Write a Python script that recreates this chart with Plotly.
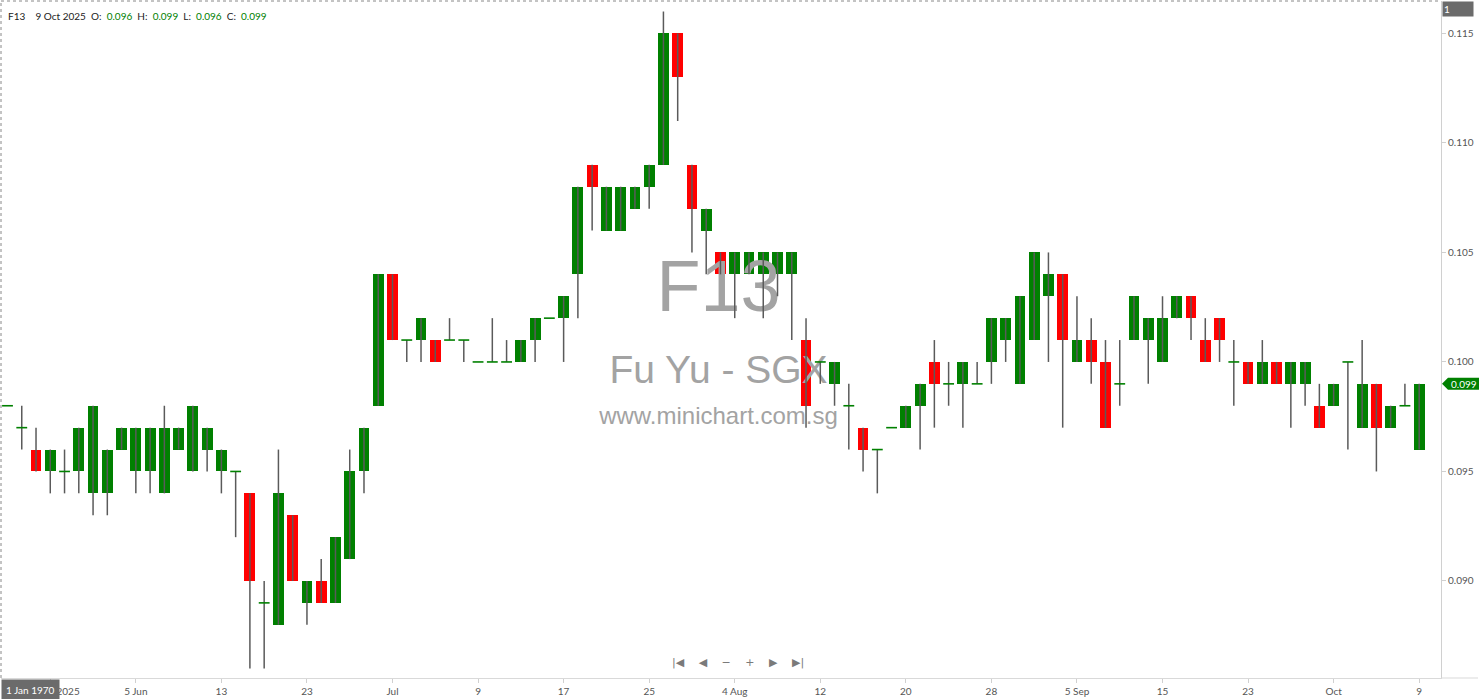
"""F13 (Fu Yu - SGX) daily candles, minichart style."""
import pandas as pd
import plotly.graph_objects as go

# trading days 23 May 2025 .. 9 Oct 2025 (no SGX weekday holidays in range)
dates = pd.bdate_range("2025-05-23", "2025-10-09")

opens = [
    0.098, 0.097, 0.096, 0.095, 0.095, 0.095, 0.094, 0.094, 0.096, 0.095,
    0.095, 0.094, 0.096, 0.095, 0.096, 0.095, 0.095, 0.094, 0.089, 0.088,
    0.093, 0.089, 0.090, 0.089, 0.091, 0.095, 0.098, 0.104, 0.101, 0.101,
    0.101, 0.101, 0.101, 0.100, 0.100, 0.100, 0.100, 0.101, 0.102, 0.102,
    0.104, 0.109, 0.106, 0.106, 0.107, 0.108, 0.109, 0.115, 0.109, 0.106,
    0.105, 0.104, 0.104, 0.104, 0.104, 0.104, 0.101, 0.100, 0.099, 0.098,
    0.097, 0.096, 0.097, 0.097, 0.098, 0.100, 0.099, 0.099, 0.099, 0.100,
    0.101, 0.099, 0.101, 0.103, 0.104, 0.100, 0.101, 0.100, 0.099, 0.101,
    0.101, 0.100, 0.102, 0.103, 0.101, 0.102, 0.100, 0.100, 0.099, 0.100,
    0.099, 0.099, 0.098, 0.098, 0.100, 0.097, 0.099, 0.097, 0.098, 0.096,
]
highs = [
    0.098, 0.098, 0.097, 0.096, 0.096, 0.097, 0.098, 0.096, 0.097, 0.097,
    0.097, 0.098, 0.097, 0.098, 0.097, 0.096, 0.095, 0.094, 0.090, 0.096,
    0.093, 0.090, 0.091, 0.092, 0.096, 0.097, 0.104, 0.104, 0.101, 0.102,
    0.101, 0.102, 0.101, 0.100, 0.102, 0.101, 0.101, 0.102, 0.102, 0.103,
    0.108, 0.109, 0.108, 0.108, 0.108, 0.109, 0.116, 0.115, 0.109, 0.107,
    0.105, 0.105, 0.105, 0.105, 0.105, 0.105, 0.102, 0.100, 0.100, 0.099,
    0.097, 0.096, 0.097, 0.098, 0.099, 0.101, 0.100, 0.100, 0.100, 0.102,
    0.102, 0.103, 0.105, 0.105, 0.104, 0.103, 0.102, 0.101, 0.101, 0.103,
    0.102, 0.103, 0.103, 0.103, 0.102, 0.102, 0.101, 0.100, 0.101, 0.100,
    0.100, 0.100, 0.099, 0.099, 0.100, 0.101, 0.099, 0.098, 0.099, 0.099,
]
lows = [
    0.098, 0.096, 0.095, 0.094, 0.094, 0.094, 0.093, 0.093, 0.096, 0.094,
    0.094, 0.094, 0.096, 0.095, 0.095, 0.094, 0.092, 0.086, 0.086, 0.088,
    0.090, 0.088, 0.089, 0.089, 0.091, 0.094, 0.098, 0.101, 0.100, 0.100,
    0.100, 0.101, 0.100, 0.100, 0.100, 0.100, 0.100, 0.100, 0.102, 0.100,
    0.102, 0.106, 0.106, 0.106, 0.107, 0.107, 0.109, 0.111, 0.105, 0.104,
    0.104, 0.102, 0.104, 0.102, 0.103, 0.101, 0.097, 0.099, 0.098, 0.096,
    0.095, 0.094, 0.097, 0.097, 0.096, 0.097, 0.098, 0.097, 0.099, 0.099,
    0.100, 0.099, 0.101, 0.100, 0.097, 0.100, 0.099, 0.097, 0.098, 0.101,
    0.099, 0.100, 0.102, 0.101, 0.100, 0.100, 0.098, 0.099, 0.099, 0.099,
    0.097, 0.098, 0.097, 0.098, 0.096, 0.097, 0.095, 0.097, 0.098, 0.096,
]
closes = [
    0.098, 0.097, 0.095, 0.096, 0.095, 0.097, 0.098, 0.096, 0.097, 0.097,
    0.097, 0.097, 0.097, 0.098, 0.097, 0.096, 0.095, 0.090, 0.089, 0.094,
    0.090, 0.090, 0.089, 0.092, 0.095, 0.097, 0.104, 0.101, 0.101, 0.102,
    0.100, 0.101, 0.101, 0.100, 0.100, 0.100, 0.101, 0.102, 0.102, 0.103,
    0.108, 0.108, 0.108, 0.108, 0.108, 0.109, 0.115, 0.113, 0.107, 0.107,
    0.104, 0.105, 0.105, 0.105, 0.105, 0.105, 0.098, 0.100, 0.100, 0.098,
    0.096, 0.096, 0.097, 0.098, 0.099, 0.099, 0.099, 0.100, 0.099, 0.102,
    0.102, 0.103, 0.105, 0.104, 0.101, 0.101, 0.100, 0.097, 0.099, 0.103,
    0.102, 0.102, 0.103, 0.102, 0.100, 0.101, 0.100, 0.099, 0.100, 0.099,
    0.100, 0.100, 0.097, 0.099, 0.100, 0.099, 0.097, 0.098, 0.098, 0.099,
]

tick_dates = ["2025-05-28", "2025-06-05", "2025-06-13", "2025-06-23", "2025-07-01",
              "2025-07-09", "2025-07-17", "2025-07-25", "2025-08-04", "2025-08-12",
              "2025-08-20", "2025-08-28", "2025-09-05", "2025-09-15", "2025-09-23",
              "2025-10-01", "2025-10-09"]
tick_text = ["28 May 2025", "5 Jun", "13", "23", "Jul", "9", "17", "25", "4 Aug",
             "12", "20", "28", "5 Sep", "15", "23", "Oct", "9"]
y_ticks = [0.090, 0.095, 0.100, 0.105, 0.110, 0.115]

GREEN = "#008000"
RED = "#ff0000"
WICK = "#5a5a5a"
BODY_W = 0.76

X_RANGE = [-0.456, 100.53]
Y_RANGE = [0.08557, 0.11648]

idx = list(range(len(dates)))
date_pos = {d.strftime("%Y-%m-%d"): i for i, d in enumerate(dates)}

# wicks
wx, wy = [], []
for i in idx:
    wx += [i, i, None]
    wy += [lows[i], highs[i], None]

# bodies and dojis
bx, bbase, bh, bcol = [], [], [], []
dx, dy = [], []
for i in idx:
    o, c = opens[i], closes[i]
    if abs(c - o) < 1e-9:
        dx += [i - BODY_W / 2, i + BODY_W / 2, None]
        dy += [o, o, None]
    else:
        bx.append(i)
        bbase.append(min(o, c))
        bh.append(abs(c - o))
        bcol.append(GREEN if c > o else RED)


def px_to_x(px):
    return X_RANGE[0] + (px - 1) / 1439 * (X_RANGE[1] - X_RANGE[0])


def py_to_y(py):
    return Y_RANGE[1] - (py - 1) / 677 * (Y_RANGE[1] - Y_RANGE[0])


fig = go.Figure()

# watermark, drawn first so the candles sit on top
for txt, py, size in [("F13", 293, 72), ("Fu Yu - SGX", 373, 39),
                      ("www.minichart.com.sg", 418, 24)]:
    fig.add_trace(go.Scatter(
        x=[px_to_x(718)], y=[py_to_y(py)], mode="text", text=[txt],
        textfont={"family": "Liberation Sans, Arial", "size": size, "color": "#a3a3a3"},
        hoverinfo="skip", showlegend=False,
    ))

fig.add_trace(go.Scatter(x=wx, y=wy, mode="lines", line={"color": WICK, "width": 1.5},
                         hoverinfo="skip", showlegend=False))
fig.add_trace(go.Bar(x=bx, y=bh, base=bbase, width=BODY_W,
                     marker={"color": bcol, "line": {"width": 0}},
                     hoverinfo="skip", showlegend=False))
fig.add_trace(go.Scatter(x=dx, y=dy, mode="lines", line={"color": GREEN, "width": 1.6},
                         hoverinfo="skip", showlegend=False))

last = len(dates) - 1
hdr = (
    f"F13\u00a0\u00a0\u00a0 {dates[last].day} {dates[last].strftime('%b %Y')}\u00a0\u00a0"
    f"O:\u00a0\u00a0<span style='color:{GREEN}'>{opens[last]:.3f}</span>\u00a0\u00a0"
    f"H:\u00a0\u00a0<span style='color:{GREEN}'>{highs[last]:.3f}</span>\u00a0\u00a0"
    f"L:\u00a0\u00a0<span style='color:{GREEN}'>{lows[last]:.3f}</span>\u00a0\u00a0"
    f"C:\u00a0\u00a0<span style='color:{GREEN}'>{closes[last]:.3f}</span>"
)
fig.add_annotation(text=hdr, xref="paper", yref="paper", x=0, y=1, xanchor="left",
                   yanchor="top", xshift=5, yshift=-7, showarrow=False,
                   font={"family": "Lato", "size": 10, "color": "#222"})

# last price tag on the axis
h = 6 / 21.9 * 0.001
tag_y = closes[last]
fig.add_shape(type="path", xref="paper", yref="y", fillcolor=GREEN, line={"width": 0},
              path=(f"M {1 + 1 / 1439},{tag_y} L {1 + 7 / 1439},{tag_y + h} "
                    f"L {1 + 38 / 1439},{tag_y + h} L {1 + 38 / 1439},{tag_y - h} "
                    f"L {1 + 7 / 1439},{tag_y - h} Z"))
fig.add_annotation(text=f"{tag_y:.3f}", xref="paper", yref="y", x=1, y=tag_y,
                   xanchor="left", xshift=8, showarrow=False,
                   font={"family": "Lato", "size": 10, "color": "white"})

# crosshair badges
fig.add_annotation(text="1", xref="paper", yref="paper", x=1, y=1, xanchor="left",
                   yanchor="top", xshift=1, showarrow=False, bgcolor="#6b6b6b",
                   width=28, align="left", borderpad=1,
                   font={"family": "Lato", "size": 10, "color": "white"})
fig.add_annotation(text="1 Jan 1970", xref="paper", yref="paper", x=0, y=0,
                   xanchor="left", yanchor="top", yshift=-1, showarrow=False,
                   bgcolor="#6b6b6b", borderpad=4,
                   font={"family": "Lato", "size": 10, "color": "white"})

# navigation buttons
fig.add_annotation(text="|◀\u2003 ◀\u2003 −\u2003 +\u2003 ▶\u2003 ▶|", xref="paper",
                   yref="paper", x=(737 - 1) / 1439, y=(678 - 663) / 677, yshift=-8,
                   showarrow=False, font={"family": "DejaVu Sans", "size": 11, "color": "#7a7a7a"})

# dotted frame on top and left
fig.add_shape(type="line", xref="paper", yref="paper", x0=0, x1=1, y0=1, y1=1,
              line={"color": "#888", "width": 1, "dash": "dot"})
fig.add_shape(type="line", xref="paper", yref="paper", x0=0, x1=0, y0=0, y1=1,
              line={"color": "#888", "width": 1, "dash": "dot"})
fig.add_shape(type="line", xref="paper", yref="paper", x0=1, x1=1.0257, y0=0, y1=0,
              line={"color": "#d9d9d9", "width": 1})

fig.update_layout(
    width=1480, height=699,
    margin={"l": 1, "r": 39, "t": 1, "b": 21},
    paper_bgcolor="white", plot_bgcolor="white",
    showlegend=False, hovermode=False, bargap=0,
    xaxis={
        "range": X_RANGE, "showgrid": False, "zeroline": False,
        "tickvals": [date_pos[d] for d in tick_dates], "ticktext": tick_text,
        "ticks": "outside", "ticklen": 4, "tickcolor": "#d0d0d0",
        "showline": True, "linecolor": "#d9d9d9", "linewidth": 1,
        "tickfont": {"family": "Lato", "size": 10, "color": "#555"},
    },
    yaxis={
        "range": Y_RANGE, "side": "right", "showgrid": False, "zeroline": False,
        "tickvals": y_ticks, "ticktext": [f"{v:.3f}" for v in y_ticks],
        "ticks": "outside", "ticklen": 4, "tickcolor": "#d0d0d0",
        "showline": True, "linecolor": "#d0d0d0", "linewidth": 1,
        "tickfont": {"family": "Lato", "size": 10, "color": "#555"},
    },
)

# the browser's default body margin would shift the chart by 8px
fig.write_html("out.html", config={"displayModeBar": False},
               post_script="document.body.style.margin='0';")
